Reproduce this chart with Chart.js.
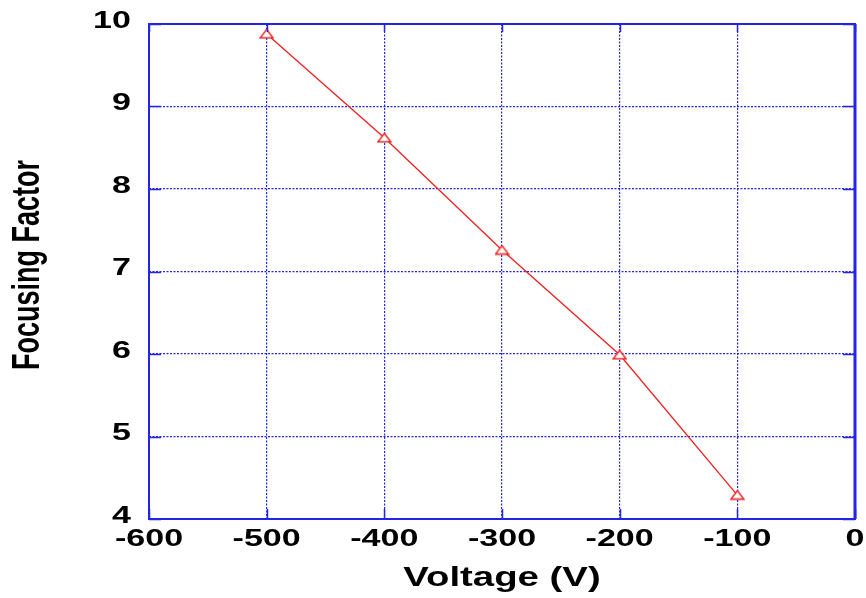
<!DOCTYPE html>
<html>
<head>
<meta charset="utf-8">
<title>Focusing Factor vs Voltage</title>
<script src="https://cdn.jsdelivr.net/npm/chart.js@4/dist/chart.umd.min.js"></script>
<style>
    html, body { margin: 0; padding: 0; background: #ffffff; }
    #wrap { width: 866px; height: 598px; }
</style>
</head>
<body>
<div id="wrap"><canvas id="focusChart" width="866" height="598"></canvas></div>
<script>
// Measured focusing factor per applied voltage
const voltages = [-500, -400, -300, -200, -100];
const focusingFactor = [9.88, 8.62, 7.26, 5.99, 4.29];

// Axis ranges and tick labels
const xTicks = [-600, -500, -400, -300, -200, -100, 0];
const yTicks = [4, 5, 6, 7, 8, 9, 10];

const axisBlue = '#2424e8';
const lineRed = '#f01e1e';
const textStretch = 1.42; // wide bold lettering

// Small open triangle used as the marker
function makeTriangle() {
    const c = document.createElement('canvas');
    c.width = 15;
    c.height = 11;
    const g = c.getContext('2d');
    g.strokeStyle = lineRed;
    g.lineWidth = 1.4;
    g.fillStyle = '#ffffff';
    g.beginPath();
    g.moveTo(7.5, 1);
    g.lineTo(14, 9.5);
    g.lineTo(1, 9.5);
    g.closePath();
    g.fill();
    g.stroke();
    return c;
}

// Frame, inward ticks and all lettering
const framePlugin = {
    id: 'frame',
    afterDraw(chart) {
        const ctx = chart.ctx;
        const a = chart.chartArea;
        const xs = chart.scales.x;
        const ys = chart.scales.y;
        ctx.save();

        // inward tick marks
        ctx.strokeStyle = axisBlue;
        ctx.lineWidth = 1.5;
        ctx.setLineDash([]);
        xTicks.forEach(v => {
            const px = Math.round(xs.getPixelForValue(v)) + 0.5;
            ctx.beginPath();
            ctx.moveTo(px, a.bottom); ctx.lineTo(px, a.bottom - 10);
            ctx.moveTo(px, a.top); ctx.lineTo(px, a.top + 8);
            ctx.stroke();
        });
        yTicks.forEach(v => {
            const py = Math.round(ys.getPixelForValue(v)) + 0.5;
            ctx.beginPath();
            ctx.moveTo(a.left, py); ctx.lineTo(a.left + 12, py);
            ctx.moveTo(a.right, py); ctx.lineTo(a.right - 12, py);
            ctx.stroke();
        });

        // plot frame
        ctx.lineWidth = 2;
        ctx.strokeRect(a.left, a.top, a.right - a.left, a.bottom - a.top);
        ctx.lineWidth = 3;
        ctx.beginPath();
        ctx.moveTo(a.right, a.top); ctx.lineTo(a.right, a.bottom);
        ctx.stroke();

        // tick labels
        ctx.fillStyle = '#000000';
        ctx.font = 'bold 24px "Liberation Sans", Arial, sans-serif';
        ctx.textBaseline = 'middle';
        ctx.textAlign = 'center';
        xTicks.forEach(v => {
            ctx.save();
            ctx.translate(xs.getPixelForValue(v), a.bottom + 20);
            ctx.scale(textStretch, 1);
            ctx.fillText(String(v), 0, 0);
            ctx.restore();
        });
        ctx.textAlign = 'right';
        yTicks.forEach(v => {
            ctx.save();
            ctx.translate(131, ys.getPixelForValue(v) - 3);
            ctx.scale(textStretch, 1);
            ctx.fillText(String(v), 0, 0);
            ctx.restore();
        });

        // axis titles
        ctx.textAlign = 'center';
        ctx.font = 'bold 27px "Liberation Sans", Arial, sans-serif';
        ctx.save();
        ctx.translate((a.left + a.right) / 2, 579);
        ctx.scale(textStretch, 1);
        ctx.fillText('Voltage (V)', 0, 0);
        ctx.restore();

        ctx.save();
        ctx.translate(28, 265);
        ctx.scale(textStretch, 1);
        ctx.rotate(-Math.PI / 2);
        ctx.fillText('Focusing Factor', 0, 0);
        ctx.restore();

        ctx.restore();
    }
};

const ctx = document.getElementById('focusChart').getContext('2d');

new Chart(ctx, {
    type: 'scatter',
    data: {
        datasets: [{
            data: voltages.map((v, i) => ({ x: v, y: focusingFactor[i] })),
            showLine: true,
            borderColor: lineRed,
            borderWidth: 1.3,
            pointStyle: makeTriangle(),
            pointRadius: 6,
            pointHoverRadius: 6
        }]
    },
    options: {
        responsive: false,
        animation: false,
        layout: { padding: { left: 0, right: 11, top: 24, bottom: 0 } },
        plugins: {
            legend: { display: false },
            tooltip: { enabled: false }
        },
        scales: {
            x: {
                type: 'linear',
                min: -600,
                max: 0,
                afterFit: s => { s.height = 79; },
                afterBuildTicks: s => { s.ticks = xTicks.map(v => ({ value: v })); },
                ticks: { display: false },
                grid: { color: axisBlue, lineWidth: 1.2, drawTicks: false },
                border: { display: false, dash: [2, 1.5] }
            },
            y: {
                type: 'linear',
                min: 4,
                max: 10,
                afterFit: s => { s.width = 149; },
                afterBuildTicks: s => { s.ticks = yTicks.map(v => ({ value: v })); },
                ticks: { display: false },
                grid: { color: axisBlue, lineWidth: 1.2, drawTicks: false },
                border: { display: false, dash: [2, 1.5] }
            }
        }
    },
    plugins: [framePlugin]
});
</script>
</body>
</html>
